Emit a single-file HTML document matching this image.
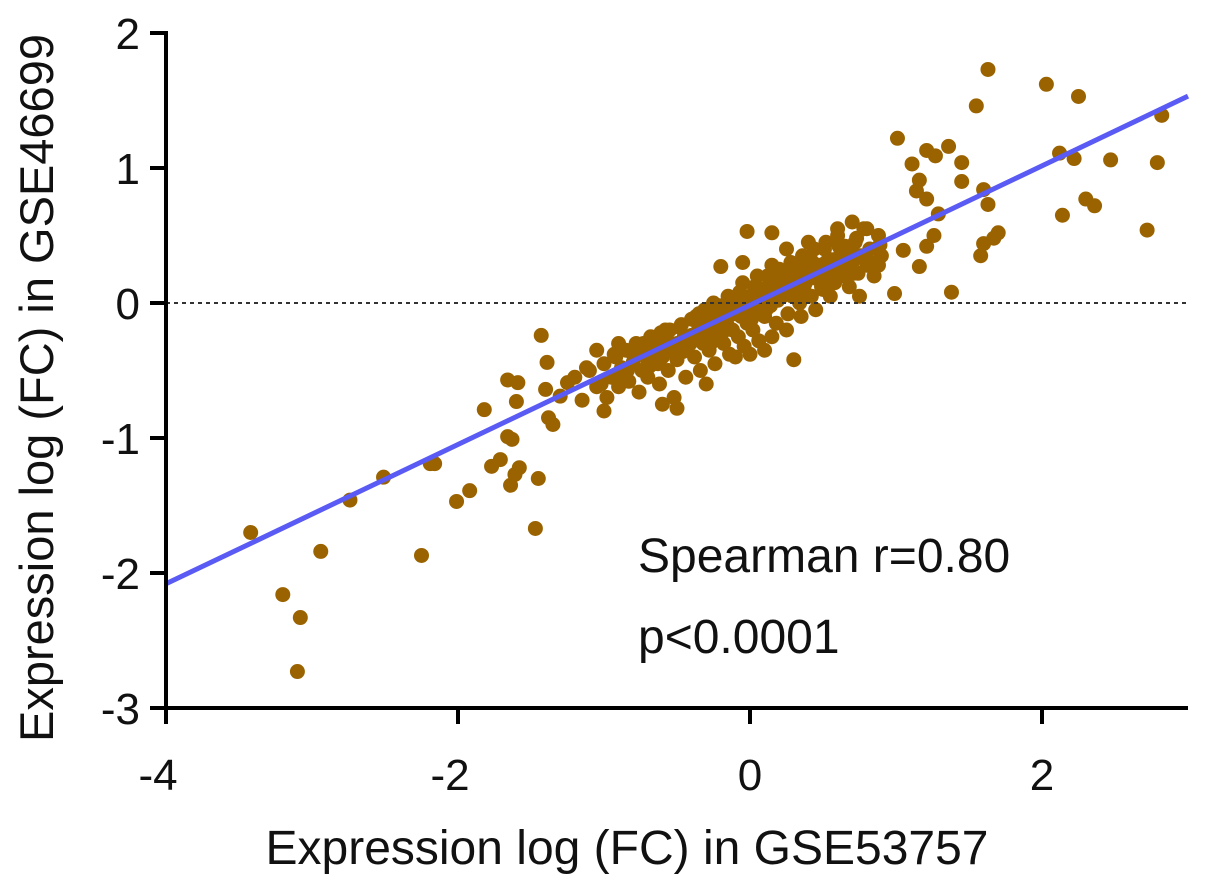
<!DOCTYPE html>
<html><head><meta charset="utf-8"><style>
body{margin:0;background:#fff;}
svg text{font-family:"Liberation Sans",sans-serif;fill:#111;}
</style></head><body>
<svg id="chart" width="1205" height="878" xmlns="http://www.w3.org/2000/svg">
<g id="dots"></g>
<line x1="166" y1="303" x2="1190" y2="303" stroke="#333" stroke-width="2" stroke-dasharray="4,4"/>
<g id="fit"></g>
<g id="axes"></g>
<text x="627" y="864" font-size="48" text-anchor="middle">Expression log (FC) in GSE53757</text>
<text transform="translate(53,388) rotate(-90)" font-size="47" text-anchor="middle">Expression log (FC) in GSE46699</text>
<text x="638" y="572" font-size="48">Spearman r=0.80</text>
<text x="638" y="653" font-size="48">p&lt;0.0001</text>
</svg>
<script>
const xTicks=[-4,-2,0,2];
const yTicks=[2,1,0,-1,-2,-3];
const fitSlope=0.516;
const fitIntercept=-0.016;
const outX=[-3.42,-3.20,-3.08,-3.10,-2.94,-2.74,-2.51,-2.25,-2.19,-2.16,-2.01,-1.92,-1.82,-1.77,-1.71,-1.66,-1.63,-1.64,-1.61,-1.58,-1.66,-1.59,-1.60,-1.45,-1.47,-1.43,-1.39,-1.38,-1.35,-1.40,-1.30,-1.25,
1.55,1.63,2.03,2.25,2.12,2.22,2.47,2.82,2.79,2.72,2.14,2.30,2.36,1.01,1.11,1.21,1.27,1.36,1.45,1.45,1.16,1.14,1.21,1.29,1.26,1.21,1.16,1.05,0.99,1.38,1.60,1.63,1.70,1.60,1.58,1.67,0.88,0.89];
const outY=[-1.70,-2.16,-2.33,-2.73,-1.84,-1.46,-1.29,-1.87,-1.19,-1.19,-1.47,-1.39,-0.79,-1.21,-1.16,-0.99,-1.01,-1.35,-1.27,-1.22,-0.57,-0.59,-0.73,-1.30,-1.67,-0.24,-0.44,-0.85,-0.90,-0.64,-0.69,-0.59,
1.46,1.73,1.62,1.53,1.11,1.07,1.06,1.39,1.04,0.54,0.65,0.77,0.72,1.22,1.03,1.13,1.09,1.16,1.04,0.90,0.91,0.83,0.77,0.66,0.50,0.42,0.27,0.39,0.07,0.08,0.84,0.73,0.52,0.44,0.35,0.48,0.28,0.43];
const coreX=[-1.20,-1.15,-1.10,-1.05,-1.00,-0.98,-0.95,-0.92,-0.90,-0.88,-0.85,-0.83,-0.80,-0.78,-0.76,-0.74,-0.72,-0.70,-0.68,-0.66,-0.64,-0.62,-0.60,-0.58,-0.56,-0.54,-0.52,-0.50,-0.48,-0.46,-0.44,-0.42,-0.40,-0.38,-0.36,-0.34,-0.32,-0.30,-0.28,-0.26,-0.24,-0.22,-0.20,-0.18,-0.16,-0.14,-0.12,-0.10,-0.08,-0.06,-0.04,-0.02,0.00,0.02,0.04,0.06,0.08,0.10,0.12,0.14,0.16,0.18,0.20,0.22,0.24,0.26,0.28,0.30,0.32,0.34,0.36,0.38,0.40,0.42,0.44,0.46,0.48,0.50,0.52,0.54,0.56,0.58,0.60,0.62,0.64,0.66,0.68,0.70,0.72,0.74,0.76,0.78,0.80,0.82,0.85,0.88,0.90,
-0.9,-0.7,-0.5,-0.3,-0.1,0.1,0.3,0.5,0.7,-0.8,-0.6,-0.4,-0.2,0.0,0.2,0.4,0.6,-0.05,0.05,0.15,0.25,-0.15,-0.25,-0.35,0.35,0.45,0.15,0.25,-0.1,0.0,0.1,-0.6,-0.5,-0.3,0.3,0.55,-0.05,-0.2,-0.02,0.15,0.4,0.6,-0.9,-1.0,-1.05,0.75,0.8,0.7,
-0.45,-0.35,-0.25,-0.15,-0.05,0.05,0.12,0.22,0.32,0.42,0.52,0.62,-0.55,-0.65,0.08,0.18,0.28,0.38,0.48,0.58,0.68,-0.33,-0.23,-0.13,-0.03,0.07,
-1.12,-1.02,-0.93,-0.86,-0.77,-0.69,-0.61,-0.53,-0.47,-0.41,-0.37,-0.29,-0.21,-0.17,-0.09,-0.01,0.03,0.09,0.13,0.19,0.23,0.27,0.31,0.37,0.41,0.47,0.51,0.57,0.61,0.67,0.73,0.79,
-0.84,-0.73,-0.63,-0.55,-0.43,-0.31,-0.19,-0.07,0.11,0.21,0.33,0.43,0.53,0.63,0.71,0.83,-0.27,-0.11,0.01,0.17,0.29,0.39,0.49,0.65];
const coreY=[-0.55,-0.72,-0.50,-0.62,-0.45,-0.70,-0.55,-0.40,-0.62,-0.48,-0.35,-0.58,-0.44,-0.30,-0.66,-0.50,-0.38,-0.55,-0.25,-0.45,-0.33,-0.60,-0.40,-0.20,-0.50,-0.30,-0.70,-0.42,-0.18,-0.36,-0.55,-0.26,-0.12,-0.40,-0.22,-0.50,-0.30,-0.08,-0.35,-0.18,-0.45,-0.25,-0.05,-0.30,-0.15,-0.38,-0.20,0.00,-0.25,-0.10,-0.32,-0.15,0.05,-0.20,-0.05,-0.28,0.10,-0.10,0.20,-0.02,0.12,-0.15,0.25,0.05,0.15,-0.08,0.30,0.10,0.20,0.00,0.35,0.15,0.25,0.05,0.40,0.18,0.28,0.10,0.45,0.22,0.32,0.15,0.50,0.28,0.20,0.38,0.12,0.30,0.45,0.22,0.35,0.55,0.28,0.40,0.20,0.50,0.35,
-0.52,-0.42,-0.30,-0.20,-0.08,0.04,0.16,0.26,0.36,-0.38,-0.28,-0.24,-0.14,-0.04,0.08,0.18,0.30,0.15,0.20,0.28,0.40,0.05,0.00,-0.08,-0.10,-0.05,-0.25,-0.20,-0.40,-0.38,-0.35,-0.75,-0.78,-0.60,-0.42,0.05,0.30,0.27,0.53,0.52,0.45,0.55,-0.30,-0.80,-0.35,0.05,0.55,0.60,
-0.25,-0.18,-0.12,-0.06,0.00,0.06,-0.02,0.08,0.14,0.22,0.30,0.36,-0.32,-0.38,0.02,0.12,0.20,0.26,0.18,0.24,0.32,-0.12,-0.08,-0.02,0.04,0.10,
-0.48,-0.60,-0.38,-0.52,-0.32,-0.47,-0.22,-0.36,-0.16,-0.30,-0.10,-0.24,-0.02,-0.18,0.02,-0.08,0.12,-0.04,0.18,0.02,0.22,0.08,0.26,0.12,0.34,0.18,0.40,0.22,0.42,0.26,0.48,0.32,
-0.50,-0.30,-0.45,-0.20,-0.30,-0.05,-0.22,0.08,-0.05,0.20,0.05,0.30,0.18,0.42,0.22,0.30,-0.30,0.02,-0.12,0.22,0.05,0.32,0.12,0.42];
const NS='http://www.w3.org/2000/svg';
const X0=750,XS=146,Y0=303,YS=135;
function sx(v){return X0+v*XS;}
function sy(v){return Y0-v*YS;}
const dots=document.getElementById('dots');
function addDot(x,y){
  const c=document.createElementNS(NS,'circle');
  c.setAttribute('cx',sx(x));c.setAttribute('cy',sy(y));c.setAttribute('r',7.5);c.setAttribute('fill','#9a6300');
  
  
  dots.appendChild(c);
}
coreX.forEach((x,i)=>addDot(x,coreY[i]));
outX.forEach((x,i)=>addDot(x,outY[i]));
const fit=document.getElementById('fit');
const fl=document.createElementNS(NS,'line');
fl.setAttribute('x1',sx(-4));fl.setAttribute('y1',sy(fitSlope*-4+fitIntercept));
fl.setAttribute('x2',sx(3));fl.setAttribute('y2',sy(fitSlope*3+fitIntercept));
fl.setAttribute('stroke','#5a5af5');fl.setAttribute('stroke-width','5');


fit.appendChild(fl);
const axes=document.getElementById('axes');
function ln(x1,y1,x2,y2,name){
  const l=document.createElementNS(NS,'line');
  l.setAttribute('x1',x1);l.setAttribute('y1',y1);l.setAttribute('x2',x2);l.setAttribute('y2',y2);
  l.setAttribute('stroke','#000');l.setAttribute('stroke-width','4');
  
  
  axes.appendChild(l);
}
function tx(x,y,s,anchor,name){
  const t=document.createElementNS(NS,'text');
  t.setAttribute('x',x);t.setAttribute('y',y);t.setAttribute('font-size','44');t.setAttribute('text-anchor',anchor);
  t.textContent=s;
  
  
  axes.appendChild(t);
}
ln(166,sy(2)-2,166,sy(-3)+2,'y-axis-line');
ln(164,sy(-3),sx(3),sy(-3),'x-axis-line');
yTicks.forEach(v=>{ln(150,sy(v),166,sy(v),'y-tick');tx(140,sy(v)+16,String(v),'end','y-tick-label');});
xTicks.forEach(v=>{ln(sx(v),sy(-3),sx(v),sy(-3)+16,'x-tick');tx(sx(v)-(v<0?8:0),sy(-3)+82,String(v),'middle','x-tick-label');});
</script>
</body></html>
